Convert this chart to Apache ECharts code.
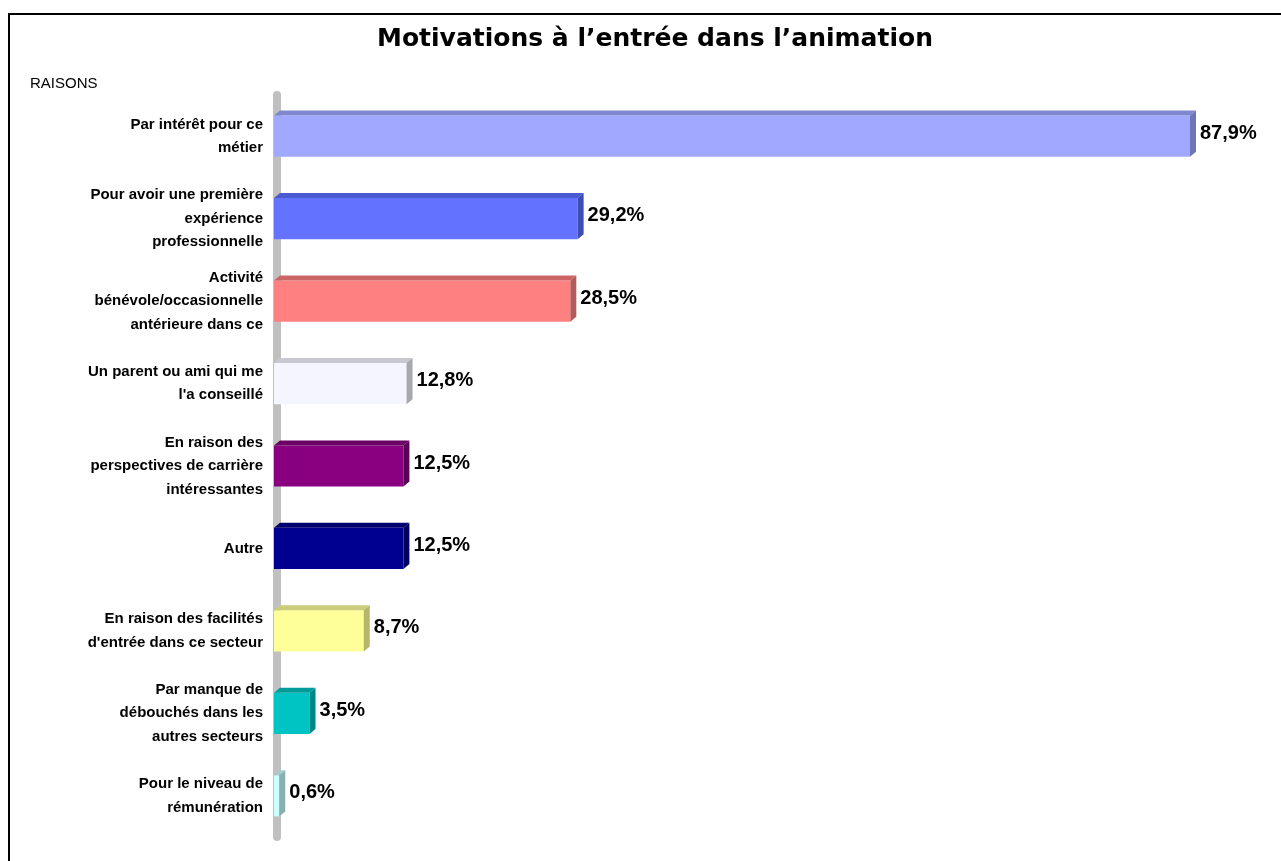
<!DOCTYPE html>
<html>
<head>
    <meta charset="utf-8">
    <title>Motivations à l’entrée dans l’animation</title>
    <script src="https://cdn.jsdelivr.net/npm/echarts@6/dist/echarts.min.js"></script>
    <style>
        html, body { margin: 0; padding: 0; background: #fff; }
    </style>
</head>
<body>
    <div id="myChart" style="width: 1281px;height:861px;"></div>
    <script>
        // raisons (de haut en bas)
        var raisons = [
            "Par intérêt pour ce\nmétier",
            "Pour avoir une première\nexpérience\nprofessionnelle",
            "Activité\nbénévole/occasionnelle\nantérieure dans ce",
            "Un parent ou ami qui me\nl'a conseillé",
            "En raison des\nperspectives de carrière\nintéressantes",
            "Autre",
            "En raison des facilités\nd'entrée dans ce secteur",
            "Par manque de\ndébouchés dans les\nautres secteurs",
            "Pour le niveau de\nrémunération"
        ];
        var pourcentages = [87.9, 29.2, 28.5, 12.8, 12.5, 12.5, 8.7, 3.5, 0.6];

        // couleurs : face avant, dessus, côté
        var faces = ['#A0A8FF', '#6373FF', '#FF8080', '#F5F5FF', '#880080', '#000090', '#FFFF99', '#00C4C4', '#CCFFFF'];
        var dessus = ['#7F87CF', '#4A5AD0', '#CC6666', '#C8C8D0', '#6A0064', '#000070', '#CCCC7A', '#009C9C', '#A3CCCC'];
        var cotes = ['#6E76B8', '#3D4DB5', '#B55A5A', '#A8A8B0', '#5A0055', '#000060', '#B5B56B', '#008888', '#88B0B0'];

        var myChart = echarts.init(document.getElementById('myChart'));

        function fmt(v) {
            return v.toFixed(1).replace('.', ',') + '%';
        }

        var option = {
            animation: false,
            backgroundColor: '#fff',
            title: [{
                text: 'Motivations à l’entrée dans l’animation',
                left: 650,
                textAlign: 'center',
                top: 22,
                textStyle: { fontFamily: 'DejaVu Sans', fontWeight: 'bold', fontSize: 25, color: '#000' }
            }, {
                text: 'RAISONS',
                left: 25,
                top: 71,
                textStyle: { fontFamily: 'Liberation Sans', fontWeight: 'normal', fontSize: 15, color: '#000' }
            }],
            graphic: [{
                type: 'rect',
                shape: { x: 9, y: 14, width: 1300, height: 900 },
                style: { fill: 'none', stroke: '#000', lineWidth: 2 },
                silent: true
            }],
            grid: {
                left: 273,
                top: 95,
                width: 1001.5,
                height: 742
            },
            xAxis: {
                type: 'value',
                min: 0,
                max: 96,
                show: false
            },
            yAxis: {
                type: 'category',
                data: raisons,
                inverse: true,
                offset: -4,
                axisLine: { lineStyle: { color: '#C0C0C0', width: 8 } },
                axisTick: { show: false },
                axisLabel: {
                    margin: 14,
                    align: 'right',
                    fontFamily: 'Liberation Sans',
                    fontWeight: 'bold',
                    fontSize: 15,
                    lineHeight: 23.5,
                    color: '#000'
                }
            },
            series: [{
                type: 'custom',
                data: pourcentages.map(function (v, i) { return [v, i]; }),
                encode: { x: 0, y: 1 },
                renderItem: function (params, api) {
                    var v = api.value(0), i = api.value(1);
                    var p0 = api.coord([0, i]);
                    var p1 = api.coord([v, i]);
                    var h = api.size([0, 1])[1] * 0.5;
                    var dx = 6, dy = 5;
                    var x0 = p0[0] + 1, x1 = p1[0];
                    var y0 = p1[1] - h / 2;
                    return {
                        type: 'group',
                        children: [{
                            type: 'rect',
                            shape: { x: x0, y: y0, width: x1 - x0, height: h },
                            style: { fill: faces[i] }
                        }, {
                            type: 'polygon',
                            shape: { points: [[x0, y0], [x0 + dx, y0 - dy], [x1 + dx, y0 - dy], [x1, y0]] },
                            style: { fill: dessus[i] }
                        }, {
                            type: 'polygon',
                            shape: { points: [[x1, y0], [x1 + dx, y0 - dy], [x1 + dx, y0 + h - dy], [x1, y0 + h]] },
                            style: { fill: cotes[i] }
                        }, {
                            type: 'text',
                            style: {
                                x: x1 + dx + 4,
                                y: p1[1] - 3,
                                text: fmt(v),
                                verticalAlign: 'middle',
                                fontFamily: 'Liberation Sans',
                                fontWeight: 'bold',
                                fontSize: 20,
                                fill: '#000'
                            }
                        }]
                    };
                }
            }]
        };
        myChart.setOption(option);
    </script>
</body>
</html>
